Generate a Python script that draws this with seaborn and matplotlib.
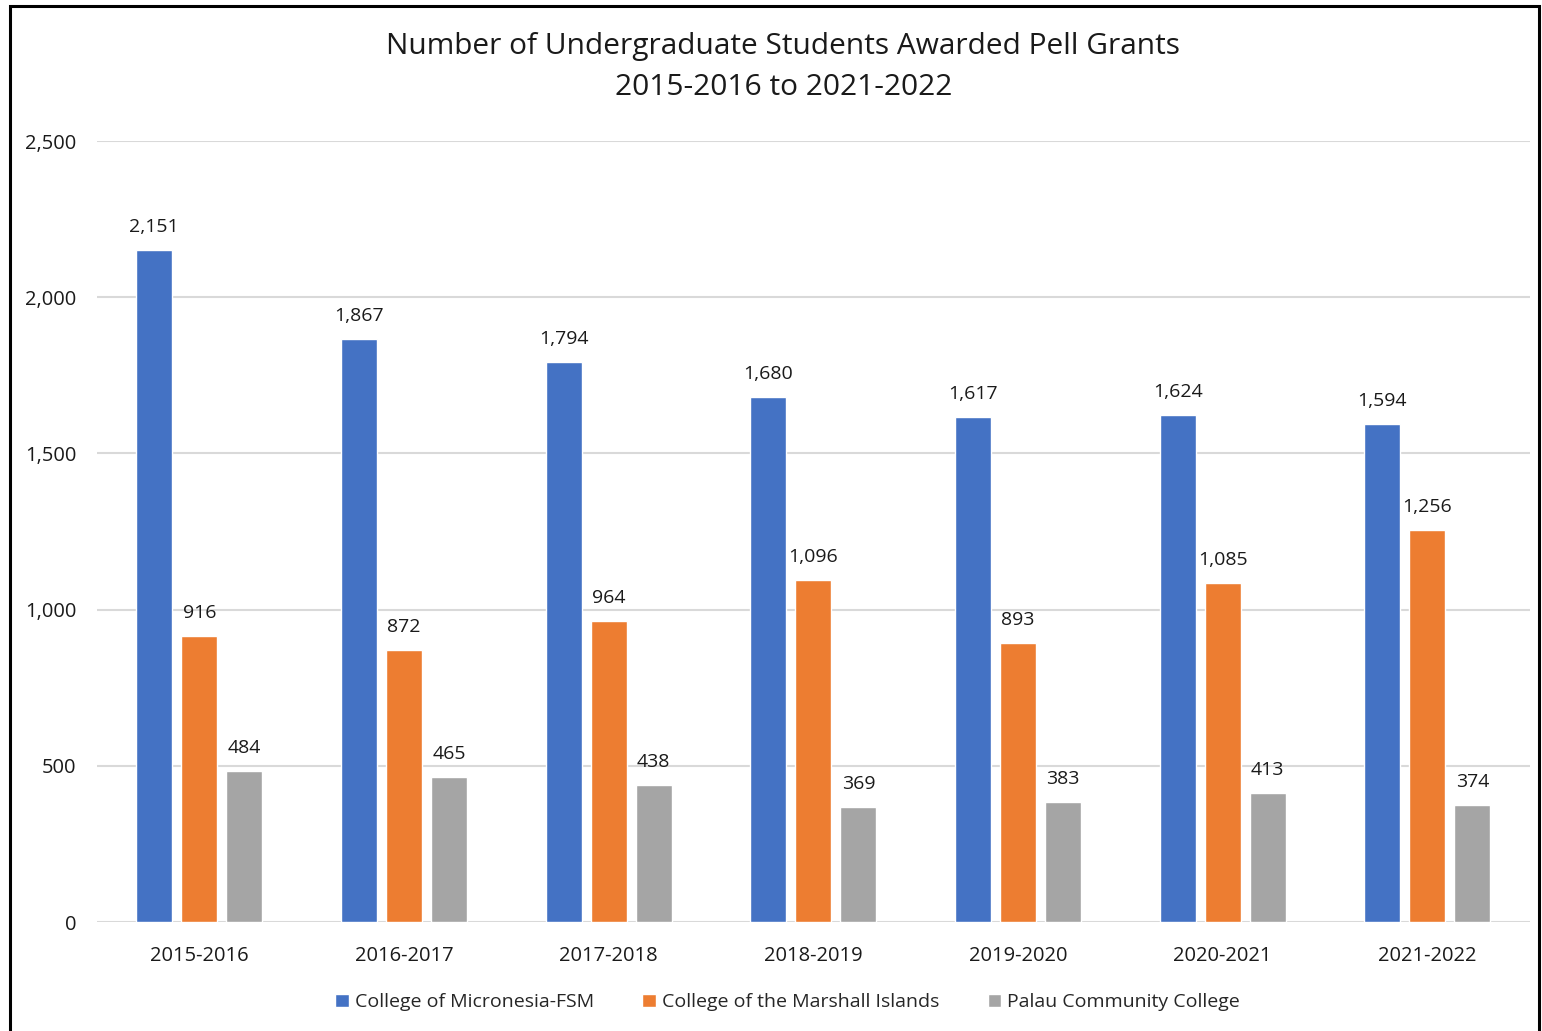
import matplotlib
matplotlib.use("Agg")
import matplotlib.pyplot as plt
import matplotlib.ticker as mticker
from matplotlib.patches import Rectangle
import pandas as pd
import seaborn as sns

years = ["2015-2016", "2016-2017", "2017-2018", "2018-2019",
         "2019-2020", "2020-2021", "2021-2022"]
micronesia = [2151, 1867, 1794, 1680, 1617, 1624, 1594]
marshall = [916, 872, 964, 1096, 893, 1085, 1256]
palau = [484, 465, 438, 369, 383, 413, 374]
colleges = ["College of Micronesia-FSM", "College of the Marshall Islands",
            "Palau Community College"]
colors = ["#4472C4", "#ED7D31", "#A5A5A5"]

df = pd.DataFrame({"year": years * 3,
                   "college": [colleges[0]] * 7 + [colleges[1]] * 7 + [colleges[2]] * 7,
                   "count": micronesia + marshall + palau})

sns.set_theme(style="white")
plt.rcParams["font.family"] = ["Open Sans", "DejaVu Sans"]

fig = plt.figure(figsize=(15.42, 10.31), dpi=100)
ax = fig.add_axes([0.0629, 0.1057, 0.9291, 0.7575])

sns.barplot(data=df, x="year", y="count", hue="college", palette=colors,
            width=0.66, gap=0.2, saturation=1, ax=ax, legend=True)

for cont in ax.containers:
    ax.bar_label(cont, labels=[f"{v:,.0f}" for v in cont.datavalues],
                 padding=10, fontsize=14, color="#1a1a1a")

ax.set_ylim(0, 2500)
ax.set_xlim(-0.5, 6.5)
ax.yaxis.set_major_locator(mticker.MultipleLocator(500))
ax.yaxis.set_major_formatter(mticker.FuncFormatter(lambda v, p: f"{v:,.0f}"))
ax.grid(axis="y", color="#D9D9D9", linewidth=1.5)
ax.set_axisbelow(True)
for s in ["top", "right", "left", "bottom"]:
    ax.spines[s].set_visible(False)
ax.axhline(0, color="#D9D9D9", linewidth=2, zorder=0.5)
ax.tick_params(axis="y", labelsize=14.5, pad=15, colors="#1a1a1a", length=0)
ax.tick_params(axis="x", labelsize=14.5, pad=17, colors="#1a1a1a", length=0)
ax.set_xlabel("")
ax.set_ylabel("")

ax.legend(loc="upper center", bbox_to_anchor=(0.482, -0.069), ncol=3,
          frameon=False, fontsize=14, handlelength=0.7, handleheight=0.7,
          handletextpad=0.3, columnspacing=2.5)

fig.text(0.508, 0.935,
         "Number of Undergraduate Students Awarded Pell Grants\n2015-2016 to 2021-2022",
         ha="center", va="center", fontsize=21.5, color="#1a1a1a", linespacing=1.55)

fig.patches.append(Rectangle((0.0065, -0.02), 0.9915, 1.0142, transform=fig.transFigure,
                             fill=False, edgecolor="black", linewidth=2.2))

fig.savefig("out.png", dpi=100)
